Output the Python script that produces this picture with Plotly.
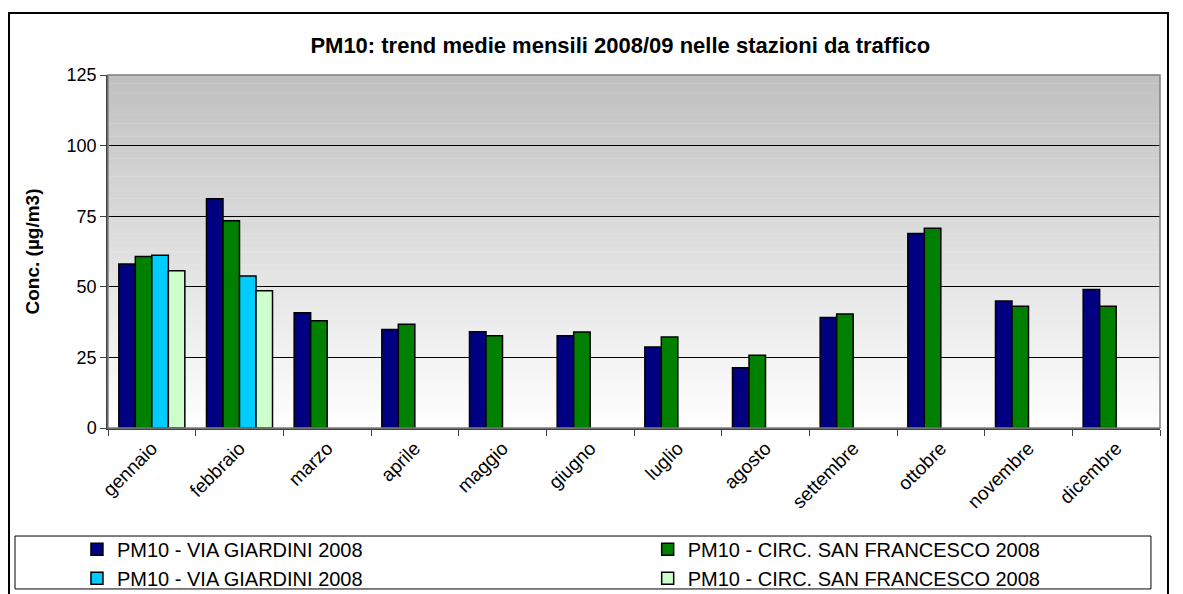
import plotly.graph_objects as go

mesi = ['gennaio', 'febbraio', 'marzo', 'aprile', 'maggio', 'giugno',
        'luglio', 'agosto', 'settembre', 'ottobre', 'novembre', 'dicembre']

giardini_a = [58.1, 81.2, 40.8, 34.9, 34.1, 32.7, 28.7, 21.3, 39.1, 68.9, 45.0, 49.0]
sanfrancesco_a = [60.7, 73.4, 38.0, 36.7, 32.7, 34.0, 32.2, 25.8, 40.4, 70.7, 43.1, 43.1]
giardini_b = [61.2, 53.8, None, None, None, None, None, None, None, None, None, None]
sanfrancesco_b = [55.7, 48.6, None, None, None, None, None, None, None, None, None, None]

nomi = ['PM10 - VIA GIARDINI 2008', 'PM10 - CIRC. SAN FRANCESCO 2008',
        'PM10 - VIA GIARDINI 2008', 'PM10 - CIRC. SAN FRANCESCO 2008']
colori = ['#000080', '#008000', '#00CCFF', '#CCFFCC']
serie = [giardini_a, sanfrancesco_a, giardini_b, sanfrancesco_b]
legende = ['legend', 'legend2', 'legend', 'legend2']

FONT = 'Arial, Liberation Sans, sans-serif'

fig = go.Figure()
for nome, valori, colore, leg in zip(nomi, serie, colori, legende):
    fig.add_trace(go.Bar(x=mesi, y=valori, name=nome, legend=leg,
                         marker=dict(color=colore, line=dict(color='black', width=1.5))))

# sfondo sfumato grigio -> bianco dell'area del grafico
n = 80
for i in range(n):
    g = int(round(255 - (255 - 192) * (i + 0.5) / n))
    fig.add_shape(type='rect', xref='x domain', yref='y domain',
                  x0=0, x1=1, y0=i / n, y1=(i + 1) / n + 0.001,
                  fillcolor=f'rgb({g},{g},{g})', line=dict(width=0), layer='below')

# bordo area grafico
fig.add_shape(type='rect', xref='paper', yref='paper', x0=0, x1=1, y0=0, y1=1,
              line=dict(color='#808080', width=1.5), layer='above')
# cornice esterna
fig.add_shape(type='rect', xref='paper', yref='paper',
              x0=-0.0941, x1=1.0076, y0=-0.49, y1=1.1756,
              line=dict(color='black', width=2))
# riquadro legenda
fig.add_shape(type='rect', xref='paper', yref='paper',
              x0=-0.0884, x1=0.9914, y0=-0.456, y1=-0.306,
              line=dict(color='black', width=1))

legenda = dict(orientation='v', y=-0.288, yanchor='top', font=dict(size=20),
               bgcolor='rgba(0,0,0,0)', tracegroupgap=0, itemclick=False, borderwidth=0)

# la pagina ha un margine di 8px: figura leggermente ridotta
fig.update_layout(
    width=1175, height=586,
    margin=dict(l=100, r=23, t=67, b=166, autoexpand=False),
    paper_bgcolor='white', plot_bgcolor='white',
    font=dict(family=FONT, color='black', size=17),
    title=dict(text='<b>PM10: trend medie mensili 2008/09 nelle stazioni da traffico</b>',
               x=0.487, xref='paper', xanchor='center', y=0.937, yanchor='middle',
               font=dict(size=22)),
    barmode='group', bargap=0.247, bargroupgap=0,
    showlegend=True,
    legend=dict(legenda, x=-0.0295, xanchor='left'),
    legend2=dict(legenda, x=0.513, xanchor='left'),
)

fig.update_xaxes(type='category', tickangle=-45, tickson='boundaries', ticks='outside',
                 ticklen=6, tickcolor='#404040', showline=True, linecolor='#404040',
                 linewidth=1.5, tickfont=dict(size=19), showgrid=False)
fig.update_yaxes(range=[0, 125], tickvals=[0, 25, 50, 75, 100, 125], ticks='outside',
                 ticklen=6, tickcolor='#404040', showline=True, linecolor='#404040',
                 linewidth=1.5, showgrid=True, gridcolor='black', gridwidth=1,
                 tickfont=dict(size=18), zeroline=False,
                 title=dict(text='<b>Conc. (µg/m3)</b>', font=dict(size=19), standoff=22))

fig.write_html('out.html')
